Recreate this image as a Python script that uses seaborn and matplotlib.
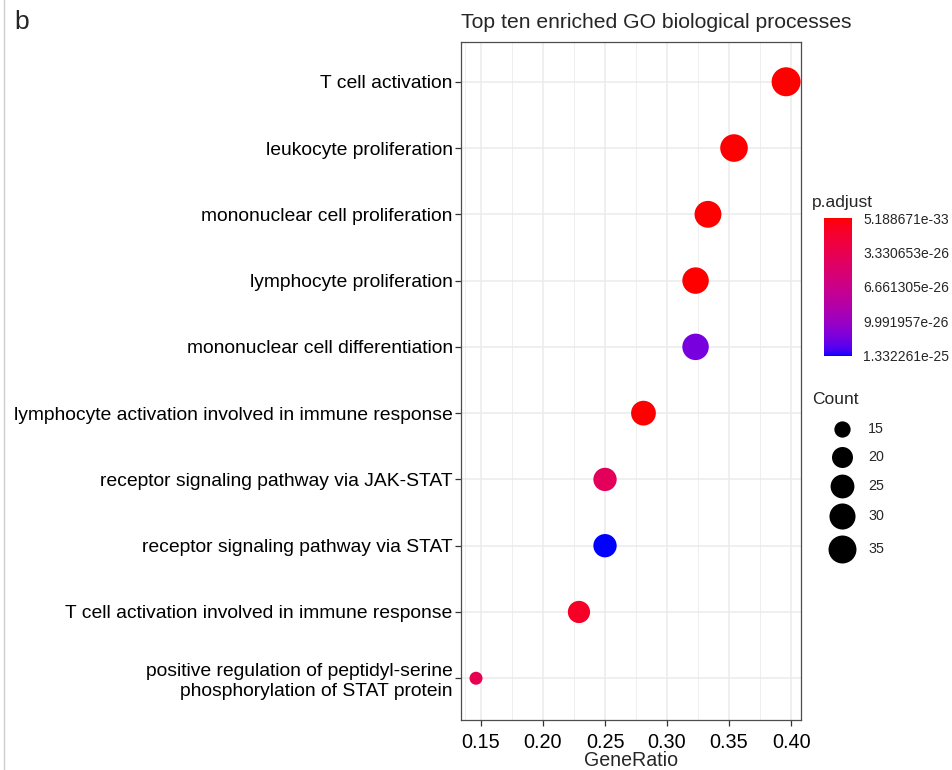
import numpy as np
import pandas as pd
import seaborn as sns
import matplotlib
matplotlib.use("Agg")
import matplotlib.pyplot as plt
from matplotlib.colors import ListedColormap, Normalize
from matplotlib.lines import Line2D

# ---- data ----
terms = [
    "T cell activation",
    "leukocyte proliferation",
    "mononuclear cell proliferation",
    "lymphocyte proliferation",
    "mononuclear cell differentiation",
    "lymphocyte activation involved in immune response",
    "receptor signaling pathway via JAK-STAT",
    "receptor signaling pathway via STAT",
    "T cell activation involved in immune response",
    "positive regulation of peptidyl-serine\nphosphorylation of STAT protein",
]
gene_ratio = [0.396, 0.354, 0.333, 0.323, 0.323, 0.281, 0.250, 0.250, 0.229, 0.146]
counts = [38, 34, 32, 31, 31, 27, 24, 24, 22, 14]
p_adjust = [5.188671e-33, 1.0e-30, 2.0e-30, 2.0e-30, 1.15e-25,
            3.5e-29, 4.0e-26, 1.332261e-25, 1.2e-26, 3.5e-26]

p_breaks = [5.188671e-33, 3.330653e-26, 6.661305e-26, 9.991957e-26, 1.332261e-25]
count_breaks = [15, 20, 25, 30, 35]
x_ticks = [0.15, 0.20, 0.25, 0.30, 0.35, 0.40]

df = pd.DataFrame({"Description": terms, "GeneRatio": gene_ratio,
                   "Count": counts, "p.adjust": p_adjust})

# ---- red -> blue gradient interpolated in CIELAB ----
WHITE = np.array([0.95047, 1.0, 1.08883])
M = np.array([[0.4124564, 0.3575761, 0.1804375],
              [0.2126729, 0.7151522, 0.0721750],
              [0.0193339, 0.1191920, 0.9503041]])


def srgb_to_lab(rgb):
    rgb = np.asarray(rgb, float)
    lin = np.where(rgb <= 0.04045, rgb / 12.92, ((rgb + 0.055) / 1.055) ** 2.4)
    xyz = M @ lin / WHITE
    f = np.where(xyz > (6 / 29) ** 3, np.cbrt(xyz), xyz / (3 * (6 / 29) ** 2) + 4 / 29)
    return np.array([116 * f[1] - 16, 500 * (f[0] - f[1]), 200 * (f[1] - f[2])])


def lab_to_srgb(lab):
    L, a, b = lab
    fy_ = (L + 16) / 116
    fx_ = fy_ + a / 500
    fz_ = fy_ - b / 200
    f = np.array([fx_, fy_, fz_])
    xyz = np.where(f > 6 / 29, f ** 3, 3 * (6 / 29) ** 2 * (f - 4 / 29)) * WHITE
    lin = np.linalg.solve(M, xyz)
    lin = np.clip(lin, 0, 1)
    rgb = np.where(lin <= 0.0031308, 12.92 * lin, 1.055 * lin ** (1 / 2.4) - 0.055)
    return np.clip(rgb, 0, 1)


lab_lo = srgb_to_lab([1, 0, 0])
lab_hi = srgb_to_lab([0, 0, 1])
ramp = [lab_to_srgb(lab_lo + t * (lab_hi - lab_lo)) for t in np.linspace(0, 1, 256)]
cmap = ListedColormap(ramp)
norm = Normalize(vmin=min(p_adjust), vmax=max(p_adjust))

# ---- point size scale (area scale, diameters in pixels) ----
DPI = 100
cmin, cmax = min(counts), max(counts)


def diam_px(c):
    size = 1 + 5 * np.sqrt((c - cmin) / (cmax - cmin))
    return 9.8 + 3.2 * size


def area_pt2(c):
    return (diam_px(c) * 72 / DPI) ** 2


size_map = {c: area_pt2(c) for c in sorted(set(counts))}

# ---- figure ----
sns.set_theme(style="whitegrid")
plt.rcParams["font.family"] = ["Liberation Sans", "DejaVu Sans"]

W, H = 953, 770
fig = plt.figure(figsize=(W / DPI, H / DPI), dpi=DPI)
fig.patch.set_facecolor("white")


def fx(px):
    return px / W


def fy(py):
    return 1 - py / H


ax = fig.add_axes([fx(461), fy(720), fx(801) - fx(461), fy(42) - fy(720)])
ax.set_facecolor("white")

sns.scatterplot(data=df, x="GeneRatio", y="Description", hue="p.adjust",
                size="Count", sizes=size_map, palette=cmap, hue_norm=norm,
                linewidth=0, legend=False, ax=ax, zorder=3)

ax.set_xlim(0.1339, 0.408)
ax.set_ylim(len(terms) - 1 + 0.63, -0.6)
ax.set_xticks(x_ticks)
ax.set_xticklabels([f"{t:.2f}" for t in x_ticks])
ax.set_xticks([0.1375, 0.175, 0.225, 0.275, 0.325, 0.375], minor=True)
ax.grid(True, which="major", color="#EBEBEB", linewidth=1.1)
ax.grid(True, which="minor", axis="x", color="#EBEBEB", linewidth=0.55)
ax.set_axisbelow(True)
for s in ax.spines.values():
    s.set_visible(True)
    s.set_color("#4D4D4D")
    s.set_linewidth(0.9)
ax.tick_params(axis="y", which="major", length=4, width=0.9, color="#333333",
               labelsize=13.9, labelcolor="black", pad=2, left=True)
ax.tick_params(axis="x", which="major", length=4, width=0.9, color="#333333",
               labelsize=14.3, labelcolor="black", pad=5, bottom=True)
ax.tick_params(axis="both", which="minor", length=0)
ax.set_xlabel("GeneRatio", fontsize=14.1, labelpad=0)
ax.set_ylabel("")
ax.set_title("Top ten enriched GO biological processes", loc="left",
             fontsize=15.2, pad=10)

fig.text(fx(14), fy(22), "b", fontsize=19, va="center", ha="left")
fig.add_artist(Line2D([fx(4), fx(4)], [0, 1], color="#CCCCCC", linewidth=1))

# ---- colour bar ----
cax = fig.add_axes([fx(824), fy(356), fx(852) - fx(824), fy(218) - fy(356)])
sm = plt.cm.ScalarMappable(cmap=cmap, norm=norm)
cb = fig.colorbar(sm, cax=cax)
cb.outline.set_visible(False)
cax.invert_yaxis()
cb.set_ticks(p_breaks)
cb.set_ticklabels([f"{v:.6e}" for v in p_breaks])
cax.tick_params(axis="y", direction="in", length=5, width=0.8, color="white",
                left=True, right=True, labelsize=10, pad=8)
fig.text(fx(812), fy(203), "p.adjust", fontsize=12.5, va="center", ha="left")

# ---- size legend ----
fig.text(fx(812), fy(400), "Count", fontsize=12.5, va="center", ha="left")
key_y = [429, 457, 486, 516, 549]
for c, y in zip(count_breaks, key_y):
    fig.add_artist(Line2D([fx(842)], [fy(y)], marker="o", linestyle="none",
                          markersize=diam_px(c) * 72 / DPI,
                          markerfacecolor="black", markeredgewidth=0))
    fig.text(fx(868), fy(y), str(c), fontsize=10.3, va="center", ha="left")

fig.savefig("out.png", dpi=DPI, facecolor="white")
